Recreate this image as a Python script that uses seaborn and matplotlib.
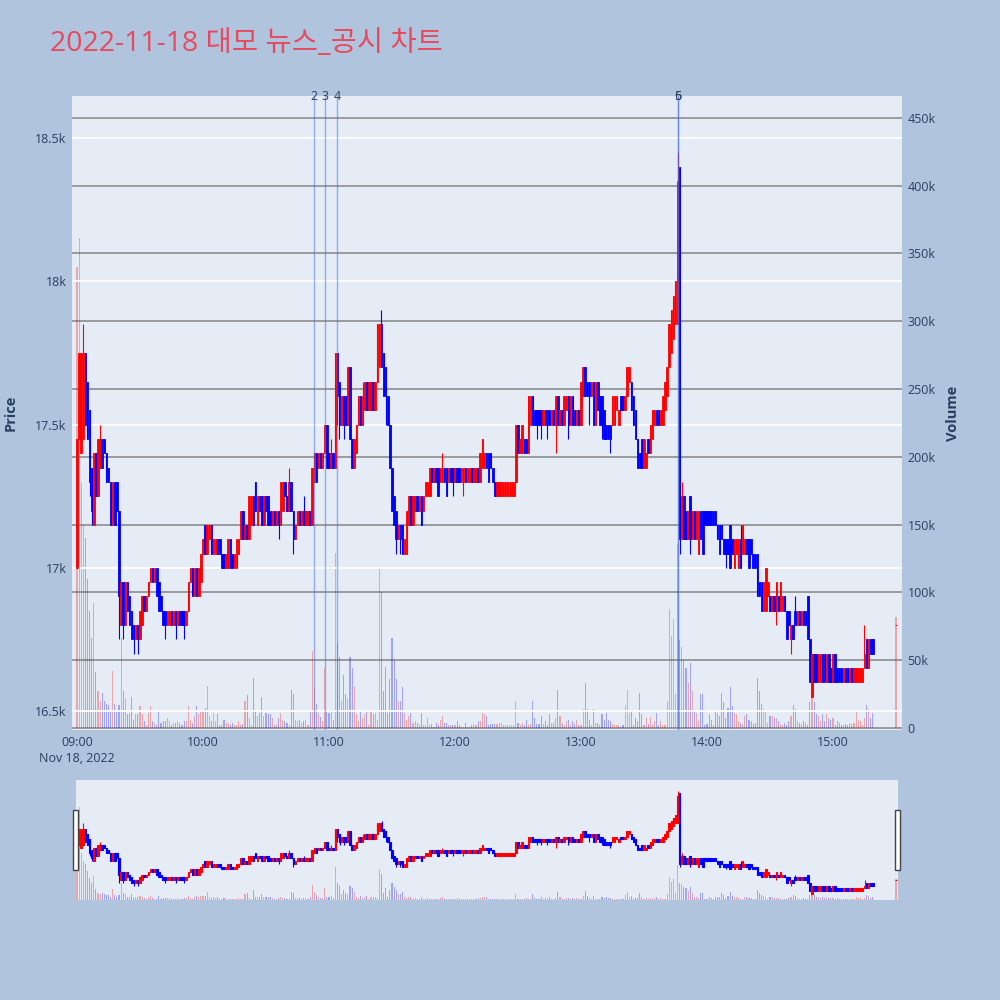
import matplotlib
matplotlib.use("Agg")
import matplotlib.pyplot as plt
import matplotlib.transforms as mtransforms
from matplotlib.patches import Rectangle
import numpy as np
import pandas as pd
import seaborn as sns

# 대모 1분봉 (09:00 ~ 15:19, 15:30 동시호가)
opens = [
    17000, 17450, 17400, 17450, 17750, 17650, 17550, 17350, 17150, 17400,
    17250, 17350, 17450, 17450, 17400, 17350, 17300, 17150, 17300, 17300,
    17200, 16800, 16950, 16800, 16950, 16900, 16850, 16800, 16750, 16800,
    16750, 16800, 16900, 16850, 16900, 16950, 17000, 16950, 17000, 16950,
    16900, 16850, 16850, 16800, 16800, 16850, 16800, 16850, 16800, 16850,
    16850, 16850, 16800, 16850, 16950, 17000, 16900, 17000, 16900, 16950,
    17050, 17150, 17050, 17100, 17150, 17050, 17050, 17100, 17100, 17050,
    17050, 17000, 17000, 17100, 17050, 17000, 17000, 17050, 17100, 17200,
    17100, 17150, 17100, 17150, 17250, 17300, 17150, 17250, 17250, 17150,
    17250, 17250, 17200, 17150, 17200, 17150, 17200, 17150, 17200, 17300,
    17250, 17200, 17300, 17200, 17100, 17150, 17200, 17150, 17200, 17150,
    17150, 17200, 17150, 17300, 17400, 17350, 17400, 17350, 17400, 17500,
    17400, 17350, 17400, 17350, 17750, 17650, 17500, 17600, 17600, 17500,
    17700, 17450, 17350, 17400, 17500, 17600, 17500, 17550, 17650, 17550,
    17550, 17650, 17550, 17650, 17700, 17850, 17750, 17700, 17600, 17500,
    17350, 17250, 17200, 17100, 17150, 17150, 17050, 17050, 17150, 17250,
    17150, 17200, 17250, 17200, 17250, 17200, 17250, 17250, 17250, 17350,
    17300, 17350, 17350, 17300, 17300, 17350, 17350, 17300, 17350, 17350,
    17300, 17350, 17350, 17300, 17300, 17350, 17300, 17300, 17350, 17300,
    17300, 17350, 17300, 17350, 17350, 17400, 17400, 17400, 17350, 17300,
    17250, 17250, 17250, 17250, 17250, 17250, 17250, 17250, 17250, 17300,
    17500, 17400, 17400, 17450, 17450, 17400, 17500, 17600, 17550, 17550,
    17550, 17550, 17500, 17550, 17550, 17550, 17500, 17550, 17500, 17600,
    17500, 17550, 17500, 17550, 17600, 17500, 17600, 17550, 17500, 17550,
    17500, 17600, 17700, 17650, 17650, 17600, 17650, 17500, 17650, 17600,
    17600, 17550, 17500, 17500, 17500, 17500, 17500, 17550, 17500, 17600,
    17600, 17550, 17600, 17650, 17650, 17600, 17550, 17450, 17400, 17450,
    17350, 17350, 17450, 17400, 17450, 17500, 17550, 17550, 17500, 17500,
    17550, 17600, 17700, 17750, 17800, 17850, 17850, 18400, 17100, 17250,
    17200, 17100, 17250, 17100, 17200, 17100, 17050, 17200, 17200, 17200,
    17200, 17200, 17200, 17200, 17200, 17150, 17150, 17150, 17100, 17100,
    17100, 17150, 17100, 17000, 17050, 17000, 17100, 17050, 17050, 17100,
    17100, 17100, 17050, 17050, 17050, 16950, 16950, 16850, 16850, 16900,
    16900, 16850, 16900, 16850, 16900, 16850, 16850, 16900, 16850, 16850,
    16750, 16800, 16850, 16800, 16850, 16800, 16850, 16850, 16900, 16750,
    16550, 16700, 16700, 16600, 16600, 16700, 16700, 16600, 16700, 16650,
    16600, 16700, 16650, 16650, 16650, 16600, 16650, 16650, 16600, 16650,
    16600, 16600, 16600, 16600, 16600, 16650, 16750, 16650, 16750, 16750,
    16800,
]
closes = [
    17450, 17750, 17750, 17750, 17500, 17450, 17300, 17200, 17400, 17250,
    17450, 17450, 17350, 17400, 17300, 17300, 17150, 17300, 17150, 17200,
    16900, 16950, 16800, 16950, 16850, 16800, 16750, 16750, 16800, 16750,
    16850, 16900, 16850, 16900, 16950, 17000, 16950, 17000, 16900, 16850,
    16850, 16800, 16800, 16850, 16850, 16800, 16850, 16800, 16850, 16800,
    16800, 16800, 16850, 16950, 17000, 16900, 17000, 16900, 17000, 17050,
    17100, 17050, 17150, 17150, 17050, 17100, 17100, 17050, 17050, 17000,
    17000, 17050, 17100, 17000, 17000, 17050, 17100, 17100, 17200, 17100,
    17150, 17100, 17250, 17250, 17150, 17200, 17250, 17200, 17150, 17250,
    17200, 17150, 17150, 17200, 17150, 17200, 17150, 17300, 17300, 17250,
    17200, 17300, 17200, 17100, 17150, 17200, 17150, 17200, 17150, 17200,
    17200, 17150, 17350, 17400, 17300, 17400, 17350, 17400, 17500, 17350,
    17350, 17400, 17350, 17750, 17600, 17500, 17600, 17500, 17500, 17700,
    17450, 17350, 17450, 17500, 17600, 17500, 17600, 17650, 17550, 17650,
    17650, 17550, 17650, 17850, 17850, 17700, 17600, 17600, 17500, 17350,
    17200, 17150, 17100, 17150, 17100, 17050, 17100, 17200, 17250, 17150,
    17250, 17250, 17200, 17250, 17150, 17250, 17300, 17300, 17350, 17300,
    17350, 17300, 17250, 17350, 17350, 17300, 17250, 17350, 17300, 17300,
    17350, 17300, 17300, 17350, 17350, 17300, 17350, 17350, 17300, 17350,
    17350, 17300, 17400, 17450, 17400, 17350, 17300, 17350, 17300, 17250,
    17300, 17300, 17300, 17300, 17300, 17300, 17300, 17300, 17300, 17500,
    17400, 17450, 17500, 17400, 17400, 17600, 17600, 17500, 17500, 17500,
    17500, 17500, 17550, 17500, 17500, 17500, 17550, 17500, 17600, 17500,
    17550, 17500, 17600, 17600, 17500, 17600, 17500, 17500, 17550, 17500,
    17650, 17700, 17600, 17600, 17600, 17650, 17500, 17650, 17550, 17500,
    17500, 17450, 17450, 17450, 17450, 17600, 17600, 17600, 17550, 17550,
    17550, 17600, 17700, 17700, 17550, 17500, 17450, 17350, 17350, 17350,
    17450, 17400, 17400, 17500, 17550, 17550, 17500, 17500, 17550, 17600,
    17650, 17700, 17850, 17900, 17950, 18000, 18350, 17100, 17250, 17100,
    17100, 17200, 17100, 17200, 17100, 17200, 17200, 17100, 17050, 17150,
    17150, 17150, 17150, 17150, 17150, 17100, 17050, 17100, 17050, 17050,
    17050, 17000, 17050, 17100, 17100, 17100, 17000, 17150, 17100, 17050,
    17000, 17050, 17000, 17000, 16900, 16900, 16850, 16950, 17000, 16950,
    16850, 16900, 16850, 16950, 16850, 16950, 16900, 16850, 16750, 16800,
    16800, 16750, 16800, 16850, 16800, 16850, 16800, 16800, 16750, 16600,
    16700, 16600, 16600, 16700, 16700, 16600, 16600, 16700, 16600, 16600,
    16700, 16600, 16600, 16600, 16600, 16650, 16600, 16600, 16650, 16600,
    16650, 16650, 16650, 16650, 16650, 16700, 16650, 16750, 16700, 16700,
    16800,
]
# 꼬리 (몸통 밖으로 나온 고가/저가만)
high_wicks = {3: 17850, 11: 17500, 101: 17350, 108: 17250, 121: 17450, 136: 17650,
              145: 17900, 174: 17400, 286: 18450, 288: 17300, 316: 17150, 342: 16900,
              375: 16800}
low_wicks = {6: 17250, 7: 17150, 20: 16750, 22: 16750, 27: 16700, 29: 16700, 42: 16750,
             47: 16750, 51: 16750, 96: 17100, 103: 17050, 124: 17500, 125: 17450,
             127: 17450, 147: 17500, 152: 17050, 154: 17050, 179: 17250, 184: 17250,
             219: 17450, 221: 17450, 224: 17450, 228: 17400, 234: 17450, 244: 17500,
             250: 17450, 254: 17400, 287: 17050, 292: 17050, 309: 17000, 333: 16800,
             340: 16700, 350: 16550}
# 거래량 (천주)
volume_k = [
    340, 361, 181, 150, 140, 110, 86, 66, 92, 41,
    27, 20, 26, 20, 18, 17, 12, 42, 18, 12,
    17, 66, 27, 22, 10, 11, 23, 6, 10, 10,
    16, 10, 5, 2, 11, 16, 5, 4, 2, 13,
    4, 5, 5, 7, 5, 2, 4, 4, 5, 4,
    2, 5, 5, 16, 6, 4, 9, 16, 10, 13,
    13, 15, 31, 9, 5, 11, 5, 10, 2, 2,
    6, 4, 4, 2, 4, 2, 2, 5, 2, 3,
    20, 24, 7, 2, 37, 12, 9, 11, 23, 9,
    11, 10, 10, 7, 2, 3, 7, 11, 6, 5,
    4, 2, 28, 25, 6, 5, 6, 4, 5, 6,
    2, 12, 57, 30, 18, 11, 8, 5, 44, 12,
    11, 13, 6, 129, 63, 52, 20, 39, 25, 22,
    52, 44, 30, 10, 5, 13, 7, 10, 13, 2,
    12, 10, 11, 6, 118, 100, 27, 45, 11, 36,
    66, 50, 36, 20, 20, 30, 11, 6, 9, 11,
    4, 5, 4, 2, 11, 2, 2, 7, 2, 3,
    1, 4, 2, 6, 9, 4, 4, 2, 2, 2,
    2, 5, 2, 1, 1, 4, 1, 1, 2, 3,
    2, 5, 5, 11, 10, 9, 2, 3, 3, 3,
    3, 4, 4, 2, 2, 2, 2, 2, 2, 20,
    4, 2, 4, 2, 6, 2, 3, 20, 7, 3,
    3, 9, 3, 5, 2, 10, 4, 4, 7, 28,
    9, 4, 2, 5, 6, 2, 5, 3, 6, 2,
    2, 14, 33, 14, 6, 2, 14, 4, 4, 2,
    10, 6, 11, 6, 5, 3, 2, 2, 2, 1,
    2, 17, 28, 11, 13, 2, 7, 5, 26, 10,
    2, 7, 3, 8, 2, 5, 11, 2, 5, 2,
    2, 20, 88, 68, 80, 25, 136, 65, 60, 50,
    44, 33, 48, 27, 12, 11, 5, 25, 25, 2,
    3, 10, 6, 2, 12, 11, 9, 26, 19, 7,
    15, 30, 16, 11, 10, 5, 4, 3, 9, 10,
    6, 5, 3, 4, 37, 27, 18, 14, 12, 4,
    9, 9, 7, 7, 5, 3, 2, 4, 2, 5,
    9, 17, 14, 5, 4, 3, 5, 4, 2, 19,
    25, 19, 10, 9, 5, 10, 5, 10, 7, 6,
    7, 2, 5, 4, 2, 2, 3, 2, 4, 3,
    4, 12, 6, 5, 2, 7, 17, 14, 7, 11,
    82,
]
closing_time = "15:30"
news_times = ["10:53", "10:58", "11:04", "13:46", "13:46"]
news_labels = ["2", "3", "4", "5", "6"]
hour_labels = ["09:00", "10:00", "11:00", "12:00", "13:00", "14:00", "15:00"]
price_ticks = [16500, 17000, 17500, 18000, 18500]
price_labels = ["16.5k", "17k", "17.5k", "18k", "18.5k"]
volume_ticks = [0, 50, 100, 150, 200, 250, 300, 350, 400, 450]

TITLE = "2022-11-18 대모 뉴스_공시 차트"
UP, DOWN = "#ff0000", "#0000ff"
TXT = "#2a3f5f"
PAPER, PLOT_BG = "#b0c4de", "#e5ecf6"


def to_min(hhmm):
    t = pd.Timestamp("2022-11-18 " + hhmm)
    return (t - pd.Timestamp("2022-11-18 09:00")).total_seconds() / 60


session = pd.date_range("2022-11-18 09:00", periods=len(opens) - 1, freq="min")
x = np.array([(t - session[0]).total_seconds() / 60 for t in session] + [to_min(closing_time)])
o = np.array(opens, dtype=float)
c = np.array(closes, dtype=float)
hi = np.maximum(o, c)
lo = np.minimum(o, c)
for k, v in high_wicks.items():
    hi[k] = v
for k, v in low_wicks.items():
    lo[k] = v
vol = np.array(volume_k, dtype=float)
up = c >= o
colors = np.where(up, UP, DOWN)

sns.set_theme(style="white")
plt.rcParams["font.family"] = ["Open Sans", "Noto Sans CJK KR", "DejaVu Sans"]

PRICE_LIM = (16434, 18647)
VOL_LIM = (-1.5, 466)


def draw(ax_v, ax_p, wick_lw, body_w, body_lw):
    ax_v.bar(x, vol, width=0.5, color=colors, alpha=0.3, linewidth=0)
    ax_p.vlines(x, lo, hi, colors=colors, linewidth=wick_lw, zorder=3)
    ax_p.bar(x, c - o, bottom=o, width=body_w, color=colors, edgecolor=colors,
             linewidth=body_lw, zorder=4)
    ax_v.set_ylim(*VOL_LIM)
    ax_p.set_ylim(*PRICE_LIM)
    for a in (ax_v, ax_p):
        for s in a.spines.values():
            s.set_visible(False)


fig = plt.figure(figsize=(10, 10), dpi=100)
fig.patch.set_facecolor(PAPER)

# 메인 차트
ax_v = fig.add_axes([0.072, 0.270, 0.830, 0.634])
ax_v.set_facecolor(PLOT_BG)
ax_p = ax_v.twinx()
ax_p.patch.set_visible(False)
draw(ax_v, ax_p, wick_lw=0.8, body_w=0.75, body_lw=0.6)
ax_v.set_xlim(-2.38, 392.86)

ax_v.yaxis.tick_right()
ax_v.yaxis.set_label_position("right")
ax_p.yaxis.tick_left()
ax_p.yaxis.set_label_position("left")

ax_v.set_yticks(volume_ticks)
ax_v.set_yticklabels(["0"] + [f"{v}k" for v in volume_ticks[1:]])
ax_v.grid(axis="y", color="#8c8c8c", linewidth=1.2)
ax_v.grid(axis="x", visible=False)
ax_v.set_axisbelow(True)

ax_p.set_yticks(price_ticks)
ax_p.set_yticklabels(price_labels)
ax_p.grid(axis="y", color="white", linewidth=1.3)
ax_p.grid(axis="x", visible=False)
ax_p.set_axisbelow(True)

ax_v.set_xticks([to_min(h) for h in hour_labels])
ax_v.set_xticklabels(hour_labels)
for a in (ax_v, ax_p):
    a.tick_params(length=0, labelsize=9, labelcolor=TXT, pad=4)

ax_p.set_ylabel("Price", fontsize=10.5, fontweight="bold", color=TXT)
ax_p.yaxis.set_label_coords(-0.066, 0.5)
ax_v.set_ylabel("Volume", fontsize=10.5, fontweight="bold", color=TXT, rotation=90)
ax_v.yaxis.set_label_coords(1.053, 0.5)

# 뉴스/공시 시점
trans = mtransforms.blended_transform_factory(ax_p.transData, ax_p.transAxes)
for t, lab in zip(news_times, news_labels):
    m = to_min(t)
    ax_p.axvline(m, color="royalblue", alpha=0.5, linewidth=1, zorder=5)
    ax_p.text(m, 1.0, lab, transform=trans, ha="center", va="center",
              fontsize=9, color=TXT, zorder=6)

fig.text(0.077, 0.242, "Nov 18, 2022", ha="center", va="center", fontsize=9, color=TXT)
fig.text(0.050, 0.949, TITLE, ha="left", va="baseline", fontsize=20.5, color="#e64a5e")

# 레인지 슬라이더
ax_sv = fig.add_axes([0.076, 0.100, 0.822, 0.120])
ax_sv.set_facecolor(PLOT_BG)
ax_sp = ax_sv.twinx()
ax_sp.patch.set_visible(False)
draw(ax_sv, ax_sp, wick_lw=0.8, body_w=0.75, body_lw=0.8)
ax_sv.set_xlim(-0.48, 390.95)
for a in (ax_sv, ax_sp):
    a.set_xticks([])
    a.set_yticks([])
    a.grid(False)

for hx in (0.073, 0.895):
    fig.patches.append(Rectangle((hx, 0.130), 0.005, 0.060, transform=fig.transFigure,
                                 facecolor="white", edgecolor="#444444", linewidth=1))

fig.savefig("out.png", dpi=100, facecolor=PAPER)
